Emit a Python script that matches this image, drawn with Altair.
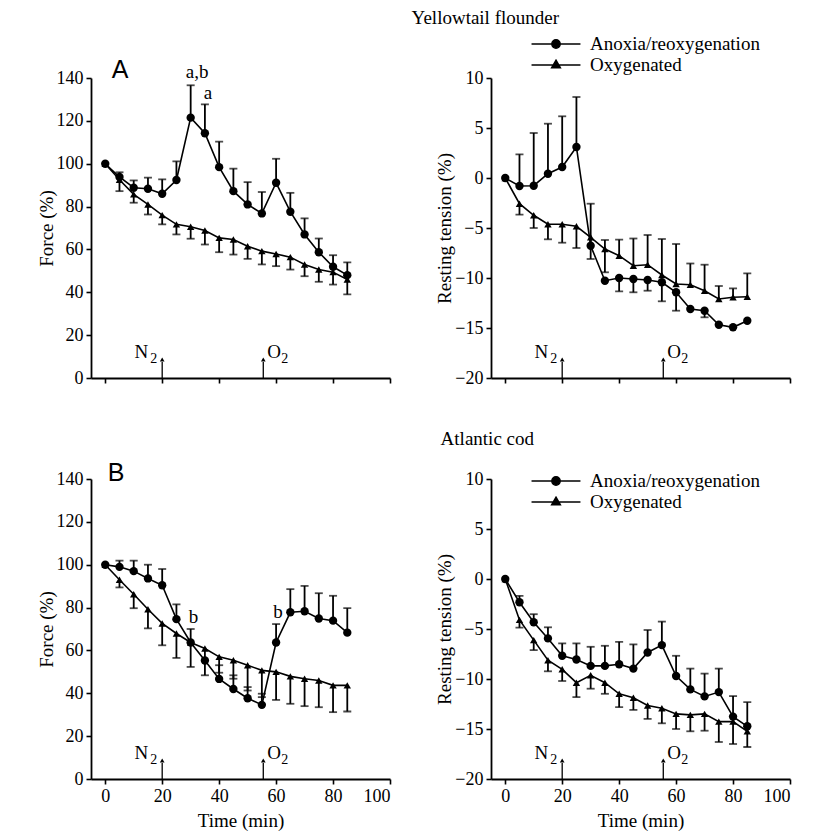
import altair as alt
import pandas as pd

FONT = "Liberation Serif"
SANS = "Liberation Sans"

T = [0, 5, 10, 15, 20, 25, 30, 35, 40, 45, 50, 55, 60, 65, 70, 75, 80, 85]
SERIES = ["Anoxia/reoxygenation", "Oxygenated"]
XDOM = [-5, 100]
XTICKS = [0, 20, 40, 60, 80, 100]
GAS_T = [20, 55.5]

# Panel A: Yellowtail flounder, force (%)
A_ANOX = [100, 93.8, 88.8, 88.3, 86.0, 92.4, 121.5, 114.2, 98.4, 87.2, 81.0, 76.8, 91.1, 77.6, 67.0, 58.7, 51.9, 48.0]
A_ANOX_UP = [None, 96.0, 92.2, 93.5, 92.7, 101.1, 136.6, 127.7, 110.3, 97.7, 91.4, 86.8, 102.3, 86.4, 74.5, 65.1, 57.3, 54.0]
A_ANOX_DN = [None] * 18
A_OXY = [100, 92.5, 85.7, 81.0, 76.0, 71.7, 70.6, 68.8, 65.4, 64.6, 61.5, 59.2, 57.9, 56.4, 53.0, 50.6, 49.4, 46.0]
A_OXY_UP = [None] * 18
A_OXY_DN = [None, 87.2, 81.8, 76.3, 71.7, 67.0, 65.0, 62.3, 58.7, 57.6, 55.6, 53.0, 52.2, 50.6, 47.5, 44.9, 43.6, 39.0]

# Yellowtail flounder, resting tension (%)
YR_ANOX = [0, -0.8, -0.77, 0.43, 1.1, 3.1, -6.77, -10.27, -10.0, -10.1, -10.2, -10.43, -11.43, -13.1, -13.27, -14.67, -14.93, -14.27]
YR_ANOX_UP = [None, 2.37, 4.5, 5.43, 6.17, 8.1, -2.57, None, None, None, None, None, None, None, None, None, None, None]
YR_ANOX_DN = [None, None, None, None, None, None, None, None, -11.33, -11.43, -11.27, -12.33, -13.27, None, -13.93, None, None, None]
YR_OXY = [0, -2.57, -3.73, -4.63, -4.63, -4.83, -5.93, -7.1, -7.77, -8.77, -8.67, -9.7, -10.6, -10.67, -11.27, -12.1, -11.93, -11.87]
YR_OXY_UP = [None, None, None, None, None, None, None, -6.2, -6.17, -6.05, -5.7, -6.1, -6.6, -8.55, -8.67, -10.8, -11.04, -9.54]
YR_OXY_DN = [None, -3.67, -5.0, -6.13, -6.47, -7.0, -8.1, -9.43, None, None, None, None, None, None, None, None, None, None]

# Panel B: Atlantic cod, force (%)
BF_ANOX = [100, 99.0, 97.0, 93.6, 90.4, 74.6, 63.7, 55.3, 46.7, 42.0, 37.7, 34.6, 63.7, 77.8, 78.3, 74.9, 73.9, 68.3]
BF_ANOX_UP = [None, 101.9, 101.9, 100.0, 98.0, 81.5, 70.0, None, 53.1, 48.4, 42.9, 39.8, 72.3, 88.6, 90.1, 86.7, 85.5, 79.7]
BF_ANOX_DN = [None] * 18
BF_OXY = [100, 93.0, 86.2, 79.2, 72.6, 67.9, 63.7, 60.9, 57.0, 55.4, 53.1, 50.7, 50.0, 47.9, 46.8, 46.0, 43.7, 43.7]
BF_OXY_UP = [None] * 18
BF_OXY_DN = [None, 89.4, 79.7, 70.3, 62.4, 56.5, 52.3, 48.4, 49.6, 46.8, 41.3, 38.2, 36.9, 35.1, 34.0, 33.5, 31.2, 31.5]

# Atlantic cod, resting tension (%)
BR_ANOX = [0, -2.32, -4.33, -5.94, -7.68, -8.05, -8.69, -8.69, -8.52, -8.96, -7.35, -6.61, -9.70, -11.04, -11.74, -11.31, -13.76, -14.73]
BR_ANOX_UP = [None, -1.68, -3.52, -4.83, -6.44, -6.44, -6.78, -6.68, -6.28, -6.54, -5.1, -4.26, -7.68, -8.96, -9.46, -8.96, -11.71, -12.32]
BR_ANOX_DN = [None] * 18
BR_OXY = [0, -4.09, -6.11, -8.12, -9.03, -10.37, -9.63, -10.37, -11.48, -11.88, -12.65, -12.92, -13.49, -13.59, -13.49, -14.26, -14.26, -15.23]
BR_OXY_UP = [None] * 18
BR_OXY_DN = [None, -4.87, -7.11, -9.23, -10.2, -11.81, -10.97, -11.48, -12.82, -13.09, -13.99, -14.43, -15.0, -15.23, -15.17, -16.3, -16.5, -16.8]

A_NOTES = [("a,b", 32.3, 140.0), ("a", 36.1, 130.0)]
B_NOTES = [("b", 31.0, 72.6), ("b", 60.7, 75.0)]

W, H = 299, 300
CIRCLE_PATH = "M-2.65,0H2.65M0.45,0A0.45,0.45,0,1,1,-0.45,0A0.45,0.45,0,1,1,0.45,0Z"
TRI_PATH = "M-2.65,0H2.65M0,-0.52L0.47,0.3L-0.47,0.3Z"


def frames(anox, anox_up, anox_dn, oxy, oxy_up, oxy_dn):
    pts, bars = [], []
    for name, mean, up, dn in ((SERIES[0], anox, anox_up, anox_dn), (SERIES[1], oxy, oxy_up, oxy_dn)):
        for t, m, u, d in zip(T, mean, up, dn):
            pts.append({"t": t, "series": name, "v": m})
            for tip in (u, d):
                if tip is not None:
                    bars.append({"t": t, "series": name, "v": m, "tip": tip})
    return pd.DataFrame(pts), pd.DataFrame(bars)


def panel(series, ydom, yticks, ytitle, bottom, notes=None, letter=None, header=None, legend_y=None):
    pts, bars = frames(*series)
    xs = alt.Scale(domain=XDOM, nice=False, zero=False)
    ys = alt.Scale(domain=ydom, nice=False, zero=False)
    xkw = dict(values=XTICKS, labels=bottom)
    xkw["title"] = "Time (min)" if bottom else ""
    xax = alt.Axis(**xkw)
    yax = alt.Axis(values=yticks, title=ytitle)

    def X(f):
        return alt.X(f, type="quantitative", scale=xs, axis=xax)

    def Y(f):
        return alt.Y(f, type="quantitative", scale=ys, axis=yax)

    ymin = ydom[0]
    upx = (ydom[1] - ydom[0]) / H
    gas = pd.DataFrame({"t": GAS_T, "base": [ymin, ymin], "top": [ymin + 16 * upx] * 2,
                        "head": [ymin + 18.5 * upx] * 2})
    layers = []
    layers.append(alt.Chart(pts).mark_line(color="black", strokeWidth=1.6).encode(
        x=X("t"), y=Y("v"), detail="series:N"))
    layers.append(alt.Chart(bars).mark_rule(color="black", strokeWidth=1.8).encode(
        x=X("t"), y=Y("v"), y2="tip"))
    layers.append(alt.Chart(bars).mark_tick(color="black", orient="horizontal", size=8, thickness=1.8).encode(
        x=X("t"), y=Y("tip")))
    layers.append(alt.Chart(pts).transform_filter(alt.datum.series == SERIES[0]).mark_point(
        shape="circle", filled=True, size=70, color="black", opacity=1).encode(x=X("t"), y=Y("v")))
    layers.append(alt.Chart(pts).transform_filter(alt.datum.series == SERIES[1]).mark_point(
        shape="triangle-up", filled=True, size=55, color="black", opacity=1).encode(x=X("t"), y=Y("v")))
    # gas change arrows
    layers.append(alt.Chart(gas).mark_rule(color="black", strokeWidth=1.3).encode(
        x=X("t"), y=Y("base"), y2="top"))
    layers.append(alt.Chart(gas).mark_point(shape="triangle-up", filled=True, size=22, color="black",
                                            opacity=1).encode(x=X("t"), y=Y("head")))
    glab = pd.DataFrame({"t": GAS_T, "v": [ymin, ymin], "main": ["N", "O"], "sub": ["2", "2"]})
    n_lab = glab[glab["main"] == "N"]
    o_lab = glab[glab["main"] == "O"]
    layers.append(alt.Chart(n_lab).mark_text(align="right", baseline="alphabetic", dx=-14, dy=-20,
                                             font=FONT, fontSize=19, color="black").encode(
        x=X("t"), y=Y("v"), text="main:N"))
    layers.append(alt.Chart(n_lab).mark_text(align="right", baseline="alphabetic", dx=-5, dy=-15,
                                             font=FONT, fontSize=14, color="black").encode(
        x=X("t"), y=Y("v"), text="sub:N"))
    layers.append(alt.Chart(o_lab).mark_text(align="left", baseline="alphabetic", dx=4, dy=-20,
                                             font=FONT, fontSize=19, color="black").encode(
        x=X("t"), y=Y("v"), text="main:N"))
    layers.append(alt.Chart(o_lab).mark_text(align="left", baseline="alphabetic", dx=18, dy=-15,
                                             font=FONT, fontSize=14, color="black").encode(
        x=X("t"), y=Y("v"), text="sub:N"))
    if notes:
        nd = pd.DataFrame(notes, columns=["label", "t", "v"])
        layers.append(alt.Chart(nd).mark_text(align="center", baseline="alphabetic", font=FONT,
                                              fontSize=19, color="black").encode(
            x=X("t"), y=Y("v"), text="label:N"))
    if letter:
        ld = pd.DataFrame([letter], columns=["label", "t", "v"])
        layers.append(alt.Chart(ld).mark_text(align="center", baseline="alphabetic", font=SANS,
                                              fontSize=25, color="black").encode(
            x=X("t"), y=Y("v"), text="label:N"))
    if header:
        hd = pd.DataFrame([header], columns=["label", "t", "v"])
        layers.append(alt.Chart(hd).mark_text(align="center", baseline="middle", font=FONT,
                                              fontSize=19, color="black").encode(
            x=X("t"), y=Y("v"), text="label:N"))
    if legend_y is not None:
        leg = alt.Legend(orient="none", legendX=55, legendY=legend_y, title=None, labelFont=FONT,
                         labelFontSize=19, labelColor="black", labelOffset=24, labelLimit=400,
                         symbolSize=341, rowPadding=1, padding=0, symbolStrokeWidth=1.5)
        layers.append(alt.Chart(pts).transform_filter("false").mark_point(
            filled=False, color="black", fill="black", stroke="black", strokeWidth=1.5,
            opacity=1).encode(
            x=X("t"), y=Y("v"),
            shape=alt.Shape("series:N", scale=alt.Scale(domain=SERIES, range=[CIRCLE_PATH, TRI_PATH]),
                            legend=leg)))
    return alt.layer(*layers).properties(width=W, height=H)


pa = panel((A_ANOX, A_ANOX_UP, A_ANOX_DN, A_OXY, A_OXY_UP, A_OXY_DN), [0, 140], [0, 20, 40, 60, 80, 100, 120, 140],
           "Force (%)", False, notes=A_NOTES, letter=("A", 5.2, 140))
pb = panel((YR_ANOX, YR_ANOX_UP, YR_ANOX_DN, YR_OXY, YR_OXY_UP, YR_OXY_DN), [-20, 10], [-20, -15, -10, -5, 0, 5, 10],
           "Resting tension (%)", False, header=("Yellowtail flounder", -7, 16.0), legend_y=-44)
pc = panel((BF_ANOX, BF_ANOX_UP, BF_ANOX_DN, BF_OXY, BF_OXY_UP, BF_OXY_DN), [0, 140], [0, 20, 40, 60, 80, 100, 120, 140],
           "Force (%)", True, notes=B_NOTES, letter=("B", 3.8, 139))
pd_ = panel((BR_ANOX, BR_ANOX_UP, BR_ANOX_DN, BR_OXY, BR_OXY_UP, BR_OXY_DN), [-20, 10], [-20, -15, -10, -5, 0, 5, 10],
            "Resting tension (%)", True, header=("Atlantic cod", -6.3, 14.0), legend_y=-8)

chart = alt.concat(pa, pb, pc, pd_, columns=2, spacing=101, bounds="flush").resolve_scale(
    shape="independent").resolve_legend(shape="independent").properties(
    padding={"left": 29, "top": 1, "right": 5, "bottom": 5}
).configure(font=FONT).configure_view(strokeWidth=0).configure_axis(
    domainColor="black", domainWidth=1.8, tickColor="black", tickWidth=1.6, tickSize=5,
    labelFont=FONT, labelFontSize=18, labelColor="black", labelPadding=3,
    titleFont=FONT, titleFontSize=19, titleFontWeight="normal", titleColor="black", titlePadding=6,
    grid=False
).configure_axisY(titlePadding=0)

chart.save("out.html", embed_options={"renderer": "svg", "actions": False})
